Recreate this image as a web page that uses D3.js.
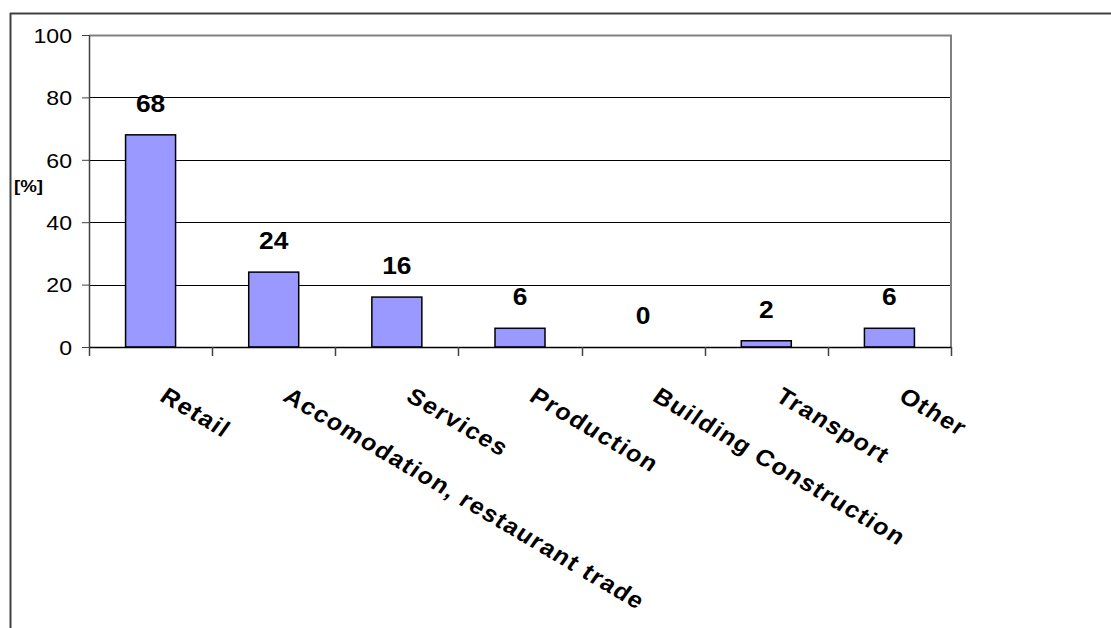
<!DOCTYPE html>
<html>
<head>
<meta charset="utf-8">
<script src="https://cdn.jsdelivr.net/npm/d3@7"></script>
<style>
  body { margin: 0; background: #fff; }
  text { font-family: Arial, "Liberation Sans", sans-serif; }
</style>
</head>
<body>
<svg width="1111" height="628"></svg>
<script>
const categories = ["Retail", "Accomodation, restaurant trade", "Services", "Production",
    "Building Construction", "Transport", "Other"];
const values = [68, 24, 16, 6, 0, 2, 6];
const yTicks = [0, 20, 40, 60, 80, 100];

const svg = d3.select("svg");
const plotLeft = 89, plotRight = 951, plotTop = 35, plotBottom = 347;
const sx = 1.1; // text in the picture looks a little stretched sideways

// frame of the figure
svg.append("line").attr("x1", 10).attr("x2", 1111).attr("y1", 13.5).attr("y2", 13.5)
    .attr("stroke", "#404040").attr("stroke-width", 2);
svg.append("line").attr("x1", 10.5).attr("x2", 10.5).attr("y1", 13).attr("y2", 628)
    .attr("stroke", "#404040").attr("stroke-width", 2);

const x = d3.scaleBand().domain(categories).range([plotLeft, plotRight]);
const y = d3.scaleLinear().domain([0, 100]).range([plotBottom, plotTop]);

// gridlines
svg.append("g").selectAll("line")
    .data(yTicks.filter(d => d > 0 && d < 100))
    .join("line")
    .attr("x1", plotLeft).attr("x2", plotRight)
    .attr("y1", d => Math.round(y(d)) + 0.5).attr("y2", d => Math.round(y(d)) + 0.5)
    .attr("stroke", "#000").attr("stroke-width", 1);

// plot area border (top/right)
svg.append("path")
    .attr("d", `M${plotLeft},${plotTop + 0.5}H${plotRight}V${plotBottom}`)
    .attr("fill", "none").attr("stroke", "#808080").attr("stroke-width", 2);

// bars
const bw = 50;
svg.append("g").selectAll("rect")
    .data(values)
    .join("rect")
    .attr("x", (d, i) => x(categories[i]) + x.bandwidth() / 2 - bw / 2)
    .attr("y", d => y(d))
    .attr("width", bw)
    .attr("height", d => y(0) - y(d))
    .attr("fill", "#9999ff")
    .attr("stroke", "#000")
    .attr("stroke-width", 1.5);

// value labels
svg.append("g").selectAll("text")
    .data(values)
    .join("text")
    .attr("transform", (d, i) =>
        `translate(${x(categories[i]) + x.bandwidth() / 2},${y(d) - 23}) scale(${sx},1)`)
    .attr("text-anchor", "middle")
    .attr("font-size", 24).attr("font-weight", "bold")
    .text(d => d);

// y axis
const yAxis = svg.append("g")
    .attr("transform", `translate(${plotLeft},0)`)
    .call(d3.axisLeft(y).tickValues(yTicks).tickSize(7).tickPadding(11).tickSizeOuter(0));
yAxis.select(".domain").attr("stroke", "#404040").attr("stroke-width", 1.5);
yAxis.selectAll(".tick line").attr("stroke", "#404040");
yAxis.selectAll("text").attr("font-size", 21).attr("fill", "#000")
    .attr("font-family", "Arial, 'Liberation Sans', sans-serif")
    .attr("x", 0).attr("dy", "0.35em")
    .attr("transform", `translate(-17,0) scale(${sx},1)`);

// x axis
const xAxis = svg.append("g")
    .attr("transform", `translate(0,${plotBottom})`)
    .call(d3.axisBottom(x).tickSize(0).tickSizeOuter(0));
xAxis.select(".domain").attr("stroke", "#000").attr("stroke-width", 1.5);
xAxis.selectAll("text").remove();
svg.append("g").selectAll("line")
    .data(d3.range(categories.length + 1))
    .join("line")
    .attr("x1", i => Math.round(plotLeft + i * x.bandwidth()) + 0.5)
    .attr("x2", i => Math.round(plotLeft + i * x.bandwidth()) + 0.5)
    .attr("y1", plotBottom).attr("y2", plotBottom + 9)
    .attr("stroke", "#404040").attr("stroke-width", 1.5);

// category labels, rotated
svg.append("g").selectAll("text")
    .data(categories)
    .join("text")
    .attr("transform", d =>
        `translate(${x(d) + x.bandwidth() / 2 + 8},${400}) scale(${sx},1) rotate(33)`)
    .attr("font-size", 23).attr("font-weight", "bold")
    .attr("letter-spacing", 1.3)
    .text(d => d);

// y axis title
svg.append("text")
    .attr("transform", `translate(14,192) scale(${sx},1)`)
    .attr("font-size", 17).attr("font-weight", "bold")
    .text("[%]");
</script>
</body>
</html>
